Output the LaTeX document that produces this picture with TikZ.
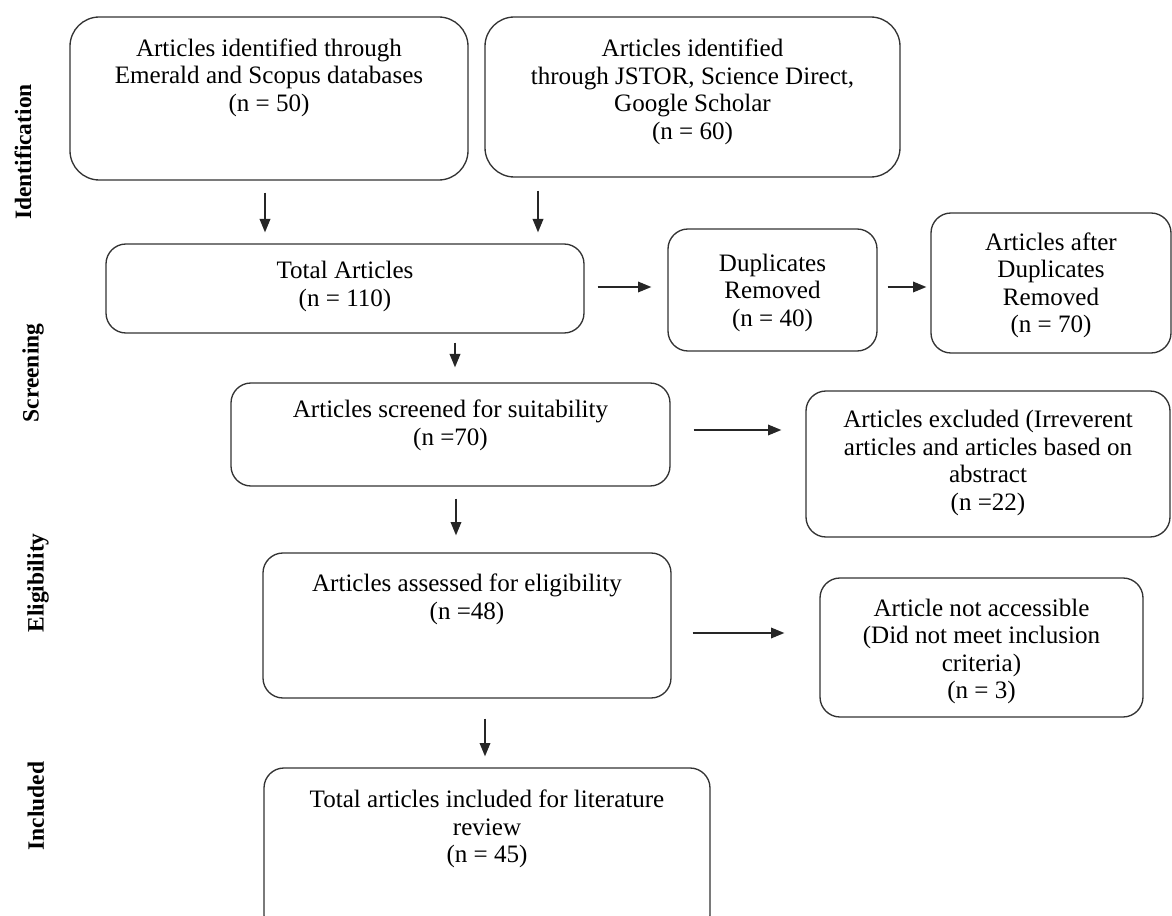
\documentclass[tikz,border=0pt]{standalone}
\usepackage{fontspec}
\setmainfont{Liberation Serif}
\usepackage{tikz}
\usetikzlibrary{arrows.meta,positioning,calc,fit}
\tikzset{
  box/.style   ={draw=black!80,line width=1pt,rounded corners=15pt,inner sep=0pt},
  bigbox/.style={box,rounded corners=22pt},
  txt/.style   ={align=center,inner sep=0pt,font=\fontsize{18.8}{20.6}\selectfont},
  stage/.style ={rotate=90,inner sep=0pt,font=\fontsize{17.6}{20}\selectfont\bfseries},
  arr/.style   ={-{Triangle[length=10pt,width=8pt]},line width=1pt,black!85},
}

\begin{document}
\begin{tikzpicture}[x=0.75pt,y=0.75pt]
  \useasboundingbox (0,0) rectangle (1172,-916);
  % stage labels
  \foreach \lx/\ly/\name in {23/152/Identification,33/373/Screening,38/583/Eligibility,36/806/Included}{
     \node[stage] (st\name) at (\lx,-\ly) {\name};
  }
  % boxes
  \node[bigbox,fit={(70,-17) (468,-180)}]   (ida) {};
  \node[bigbox,fit={(485,-17) (900,-177)}]  (idb) {};
  \node[box,fit={(106,-244) (584,-333)}]    (tot) {};
  \node[box,fit={(668,-229) (877,-351)}]    (dup) {};
  \node[box,fit={(931,-213) (1171,-353)}]   (aft) {};
  \node[box,fit={(231,-383) (670,-486)}]    (scr) {};
  \node[box,fit={(806,-391) (1170,-537)}]   (exc) {};
  \node[box,fit={(263,-553) (671,-698)}]    (ass) {};
  \node[box,fit={(820,-578) (1143,-717)}]   (nac) {};
  \node[box,fit={(264,-768) (710,-935)}]    (inc) {};
  % texts
  \node[txt,below=16.5pt of ida.north] {Articles identified through\\Emerald and Scopus databases\\(n = 50)};
  \node[txt,below=17pt of idb.north]   {Articles identified\\through JSTOR, Science Direct,\\Google Scholar\\(n = 60)};
  \node[txt,below=13.5pt of tot.north] {Total Articles\\(n = 110)};
  \node[txt,below=19pt of dup.north]   {Duplicates\\Removed\\(n = 40)};
  \node[txt,below=15pt of aft.north]   {Articles after\\Duplicates\\Removed\\(n = 70)};
  \node[txt,below=13pt of scr.north]   {Articles screened for suitability\\(n =70)};
  \node[txt,below=15pt of exc.north]   {Articles excluded (Irreverent\\articles and articles based on\\abstract\\(n =22)};
  \node[txt,below=16pt of ass.north]   {Articles assessed for eligibility\\(n =48)};
  \node[txt,below=16pt of nac.north]   {Article not accessible\\(Did not meet inclusion\\criteria)\\(n = 3)};
  \node[txt,below=17pt of inc.north]   {Total articles included for literature\\review\\(n = 45)};
  % arrows
  \draw[arr,shorten <=9pt,shorten >=8.25pt]     ($(ida.south)+(-4,0)$) -- ($(ida.south |- tot.north)+(-4,0)$);
  \draw[arr,shorten <=9.75pt,shorten >=8.25pt]  ($(idb.south)+(-154.5,0)$) -- ($(idb.south |- tot.north)+(-154.5,0)$);
  \draw[arr,shorten <=9.75pt,shorten >=12pt]    ($(tot.east)+(0,1.5)$) -- ($(tot.east -| dup.west)+(0,1.5)$);
  \draw[arr,shorten <=7.5pt,shorten >=3pt]      ($(dup.east)+(0,3)$) -- ($(dup.east -| aft.west)+(0,3)$);
  \draw[arr,shorten <=6.75pt,shorten >=11.25pt] ($(tot.south)+(110,0)$) -- ($(tot.south |- scr.north)+(110,0)$);
  \draw[arr,shorten <=17.25pt,shorten >=18pt]   ($(scr.east)+(0,4.5)$) -- ($(scr.east -| exc.west)+(0,4.5)$);
  \draw[arr,shorten <=9pt,shorten >=12.75pt]    ($(scr.south)+(5.5,0)$) -- ($(scr.south |- ass.north)+(5.5,0)$);
  \draw[arr,shorten <=15.75pt,shorten >=26.25pt]($(ass.east)+(0,-7.5)$) -- ($(ass.east -| nac.west)+(0,-7.5)$);
  \draw[arr,shorten <=15pt,shorten >=8.25pt]    ($(ass.south)+(18,0)$) -- ($(ass.south |- inc.north)+(18,0)$);
\end{tikzpicture}
\end{document}
